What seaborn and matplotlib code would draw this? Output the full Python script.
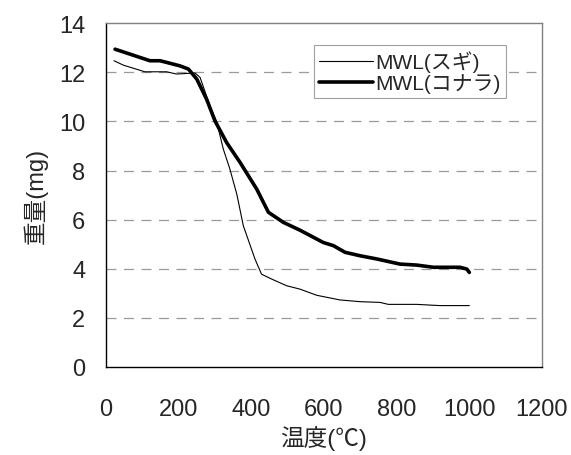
import pandas as pd
import matplotlib
matplotlib.use("Agg")
import matplotlib.pyplot as plt
import seaborn as sns

# スギ (thin line)
sugi_temp = [22, 48, 107, 167, 194, 245, 259, 286, 305, 323, 341, 360, 378, 410, 428, 456,
             497, 534, 580, 644, 699, 754, 777, 855, 919, 1000]
sugi_wt = [12.47, 12.29, 12.02, 12.02, 11.93, 11.97, 11.79, 10.64, 9.96, 8.87, 8.06, 7.04, 5.75,
           4.40, 3.78, 3.58, 3.31, 3.17, 2.92, 2.73, 2.66, 2.63, 2.55, 2.55, 2.50, 2.50]

# コナラ (thick line)
konara_temp = [25, 121, 149, 204, 227, 250, 277, 300, 332, 369, 415, 447, 488, 534, 598, 626,
               658, 699, 745, 809, 855, 901, 974, 993, 1000]
konara_wt = [12.94, 12.47, 12.47, 12.26, 12.13, 11.72, 10.9, 10.02, 9.14, 8.33, 7.24, 6.30,
             5.89, 5.57, 5.07, 4.94, 4.67, 4.53, 4.40, 4.19, 4.15, 4.06, 4.06, 3.99, 3.85]

df = pd.concat([
    pd.DataFrame({"temp": sugi_temp, "wt": sugi_wt, "series": "MWL(スギ)"}),
    pd.DataFrame({"temp": konara_temp, "wt": konara_wt, "series": "MWL(コナラ)"}),
])

sns.set_style("white")
plt.rcParams['font.family'] = ['Liberation Sans', 'Noto Sans CJK JP', 'DejaVu Sans']

fig = plt.figure(figsize=(5.71, 4.56), dpi=100)
ax = fig.add_axes([0.1856, 0.193, 0.7636, 0.754])

sns.lineplot(data=df, x="temp", y="wt", hue="series", size="series",
             sizes={"MWL(スギ)": 0.8, "MWL(コナラ)": 2.6},
             palette={"MWL(スギ)": "black", "MWL(コナラ)": "black"},
             sort=False, estimator=None, ax=ax)

ax.set_xlim(0, 1200)
ax.set_ylim(0, 14)
ax.set_xticks(range(0, 1201, 200))
ax.set_yticks(range(0, 15, 2))
for y in range(2, 14, 2):
    ax.axhline(y, color="#9a9a9a", lw=0.9, ls=(0, (8, 6)), zorder=0)

ax.tick_params(axis="x", direction="in", length=6, width=0.8, pad=22, labelsize=17)
ax.tick_params(axis="y", direction="in", length=6, width=0.8, pad=15, labelsize=17)
for s in ["left", "bottom"]:
    ax.spines[s].set_color("black")
    ax.spines[s].set_linewidth(1.0)
for s in ["top", "right"]:
    ax.spines[s].set_color("#808080")
    ax.spines[s].set_linewidth(1.0)

ax.set_xlabel("温度(℃)", fontsize=17, labelpad=4)
ax.set_ylabel("重量(mg)", fontsize=17, labelpad=8)

leg = ax.legend(loc="upper right", bbox_to_anchor=(0.917, 0.936), borderaxespad=0,
                fontsize=15, fancybox=False, framealpha=1, edgecolor="#a0a0a0",
                handlelength=2.6, handletextpad=0.1, borderpad=0.25, labelspacing=0.05)
leg.get_frame().set_linewidth(0.8)

fig.savefig("out.png", dpi=100)
